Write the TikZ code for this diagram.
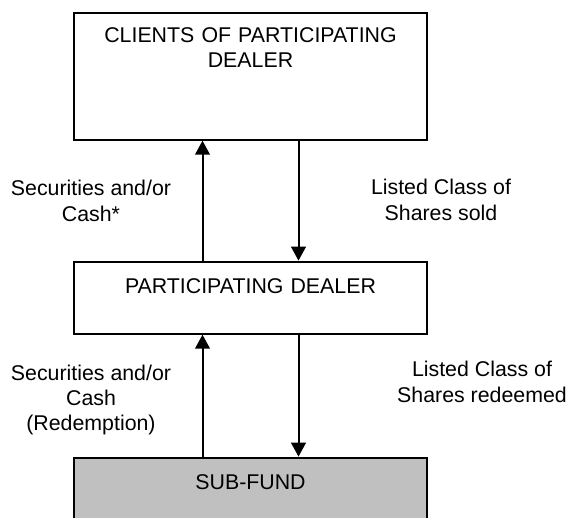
\documentclass[tikz,border=0pt]{standalone}
\usepackage{fontspec}
\setmainfont{Liberation Sans}
\usepackage{xcolor}
\usetikzlibrary{arrows.meta, positioning}
\definecolor{subgray}{HTML}{C0C0C0}

\begin{document}
\begin{tikzpicture}[
    x=0.75pt, y=-0.75pt,
    font=\fontsize{16pt}{19pt}\selectfont,
    box/.style={draw, line width=1.5pt, inner sep=0pt, text width=265pt, align=center},
    lbl/.style={align=center},
    arr/.style={-{Triangle[length=10.5pt, width=11pt]}, line width=1.5pt}
  ]
  \useasboundingbox (0,0) rectangle (566,517);
  \node[box, anchor=north, text height=22pt, text depth=73pt] (clients) at (250.5,12) {CLIENTS OF PARTICIPATING\\DEALER};
  \node[box, text height=24pt, text depth=30pt, below=90pt of clients] (dealer) {PARTICIPATING DEALER};
  \node[box, fill=subgray, text height=24pt, text depth=40pt, below=91.5pt of dealer] (subfund) {SUB-FUND};
  \draw[arr] ([xshift=-36pt]dealer.north) -- ([xshift=-36pt]clients.south);
  \draw[arr] ([xshift=36pt]clients.south) -- ([xshift=36pt]dealer.north);
  \draw[arr] ([xshift=-36pt]subfund.north) -- ([xshift=-36pt]dealer.south);
  \draw[arr] ([xshift=36pt]dealer.south) -- ([xshift=36pt]subfund.north);
  \node[lbl] (cash) at (91,201) {Securities and/or\\Cash*};
  \node[lbl] (sold) at (441,200) {Listed Class of\\Shares sold};
  \node[lbl] (redemption) at (91,400) {Securities and/or\\Cash\\(Redemption)};
  \node[lbl] (redeemed) at (482,382) {Listed Class of\\Shares redeemed};
\end{tikzpicture}
\end{document}
